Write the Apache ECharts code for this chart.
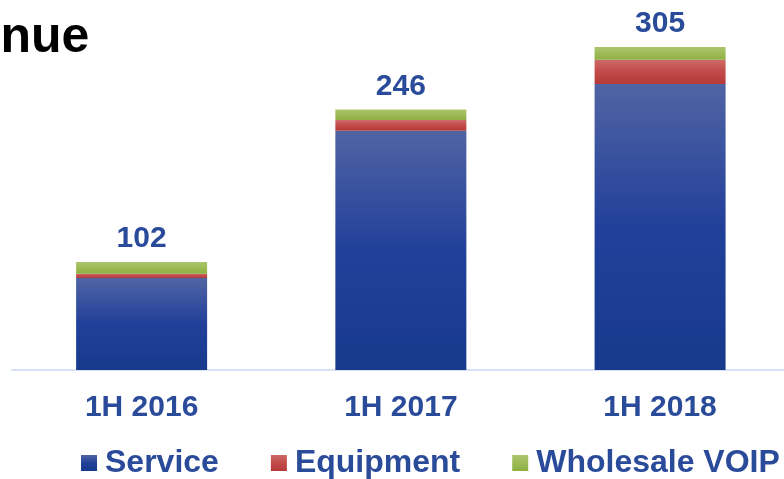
<!DOCTYPE html>
<html>
<head>
<meta charset="utf-8">
<script src="https://cdn.jsdelivr.net/npm/echarts@6/dist/echarts.min.js"></script>
<style>
  html, body { margin: 0; padding: 0; background: #fff; }
  #chart { width: 784px; height: 479px; }
</style>
</head>
<body>
<div id="chart"></div>
<script>
const categories = ['1H 2016', '1H 2017', '1H 2018'];
const service = [87, 226, 270];
const equipment = [4, 10, 23];
const wholesale = [11, 10, 12];
const totals = [102, 246, 305];

const font = "'Liberation Sans', Arial, sans-serif";
const textBlue = '#2a4a9a';

function grad(top, mid, bottom) {
    return new echarts.graphic.LinearGradient(0, 0, 0, 1, [
        {offset: 0, color: top},
        {offset: 0.5, color: mid},
        {offset: 1, color: bottom}
    ]);
}

// [value, category index]: value dim first so the stack goes on y,
// index on a value x axis so the last band can run past the right edge
const pairs = arr => arr.map((v, i) => [v, i]);
const enc = {x: 1, y: 0};

const option = {
    animation: false,
    grid: {left: 12, right: 0, top: 10, bottom: 109},
    graphic: [{
        type: 'text', x: -119, y: 38,
        style: {text: 'Revenue', font: 'bold 50px ' + font, fill: '#000', textVerticalAlign: 'middle'}
    }],
    legend: {
        left: 81, top: 447, padding: 0,
        itemWidth: 16, itemHeight: 16, itemGap: 52,
        icon: 'rect',
        textStyle: {fontFamily: font, fontWeight: 'bold', fontSize: 32, color: textBlue, padding: [0, 0, 0, 3]},
        data: ['Service', 'Equipment', 'Wholesale VOIP']
    },
    xAxis: {
        type: 'value',
        min: -0.5, max: 2.478,
        splitLine: {show: false},
        axisLine: {show: true, onZero: false, lineStyle: {color: '#d9e1f5', width: 2}},
        axisTick: {show: false},
        axisLabel: {
            customValues: [0, 1, 2],
            formatter: v => categories[Math.round(v)],
            margin: 23, fontFamily: font, fontWeight: 'bold', fontSize: 30, color: textBlue
        }
    },
    yAxis: {type: 'value', min: 0, max: 340, show: false, splitLine: {show: false}},
    series: [
        {
            name: 'Service', type: 'bar', stack: 'rev', barWidth: 131, encode: enc,
            itemStyle: {color: grad('#5064a4', '#22409a', '#173a8c')},
            data: pairs(service)
        },
        {
            name: 'Equipment', type: 'bar', stack: 'rev', barWidth: 131, encode: enc,
            itemStyle: {color: grad('#cc6a68', '#c24a48', '#b53a3a')},
            data: pairs(equipment)
        },
        {
            name: 'Wholesale VOIP', type: 'bar', stack: 'rev', barWidth: 131, encode: enc,
            itemStyle: {color: grad('#abc56e', '#9dbb56', '#8daf42')},
            label: {
                show: true, position: 'top', distance: 8,
                fontFamily: font, fontWeight: 'bold', fontSize: 30, color: textBlue,
                formatter: p => totals[p.dataIndex]
            },
            data: pairs(wholesale)
        }
    ]
};

const myChart = echarts.init(document.getElementById('chart'));
myChart.setOption(option);
</script>
</body>
</html>
